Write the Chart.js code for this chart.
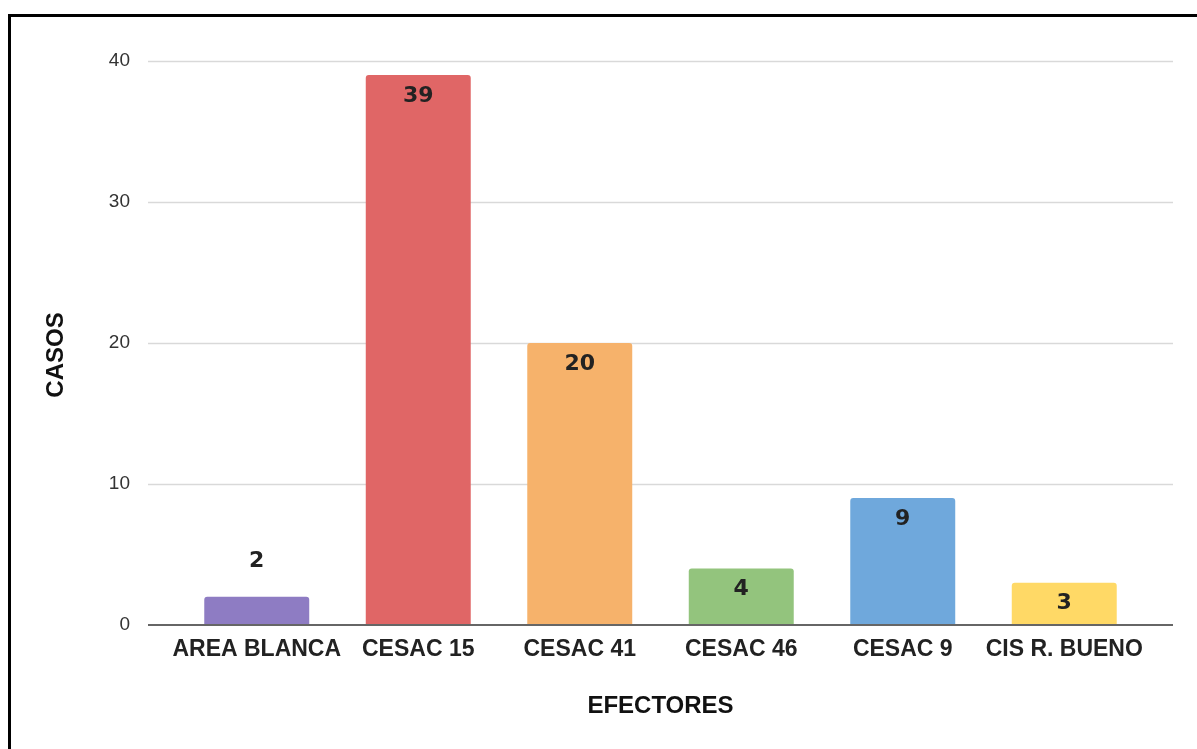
<!DOCTYPE html>
<html>
<head>
<meta charset="utf-8">
<script src="https://cdn.jsdelivr.net/npm/chart.js@4/dist/chart.umd.min.js"></script>
<style>
  html, body { margin: 0; padding: 0; background: #fff; overflow: hidden; }
  #wrap { position: relative; width: 1197px; height: 749px; }
  #frame { position: absolute; left: 8px; top: 14px; width: 1300px; height: 900px;
           border-left: 3px solid #000; border-top: 3px solid #000; pointer-events: none; }
  canvas { position: absolute; left: 0; top: 0; }
</style>
</head>
<body>
<div id="wrap">
  <canvas id="chart" width="1197" height="749"></canvas>
  <div id="frame"></div>
</div>
<script>
// Cases per health centre
const categories = ['AREA BLANCA', 'CESAC 15', 'CESAC 41', 'CESAC 46', 'CESAC 9', 'CIS R. BUENO'];
const casos = [2, 39, 20, 4, 9, 3];
const barColors = ['#8e7cc3', '#e06666', '#f6b26b', '#93c47d', '#6fa8dc', '#ffd966'];
const yTicks = [0, 10, 20, 30, 40];
const yTitle = 'CASOS';
const xTitle = 'EFECTORES';

const SANS = '"Liberation Sans", Arial, sans-serif';
const GRID_EXTEND = 28;

// Horizontal gridlines that run a little past the category bands on both sides
const gridPlugin = {
  id: 'wideGrid',
  beforeDatasetsDraw(chart) {
    const { ctx, chartArea, scales } = chart;
    ctx.save();
    ctx.strokeStyle = '#d9d9d9';
    ctx.lineWidth = 1.5;
    yTicks.forEach(v => {
      if (v === 0) return;
      const y = Math.round(scales.y.getPixelForValue(v)) + 0.5;
      ctx.beginPath();
      ctx.moveTo(chartArea.left - GRID_EXTEND, y);
      ctx.lineTo(chartArea.right + GRID_EXTEND, y);
      ctx.stroke();
    });
    ctx.restore();
  },
  afterDatasetsDraw(chart) {
    const { ctx, chartArea, scales } = chart;
    const y = scales.y.getPixelForValue(0);
    ctx.save();
    ctx.strokeStyle = '#666';
    ctx.lineWidth = 2;
    ctx.beginPath();
    ctx.moveTo(chartArea.left - GRID_EXTEND, y);
    ctx.lineTo(chartArea.right + GRID_EXTEND, y);
    ctx.stroke();
    ctx.restore();
  }
};

// Value labels: inside the top of tall bars, above short ones
const valueLabels = {
  id: 'valueLabels',
  afterDatasetsDraw(chart) {
    const { ctx } = chart;
    const meta = chart.getDatasetMeta(0);
    ctx.save();
    ctx.font = 'bold 22px "DejaVu Sans", Verdana, sans-serif';
    ctx.fillStyle = '#222';
    ctx.textAlign = 'center';
    ctx.textBaseline = 'middle';
    meta.data.forEach((bar, i) => {
      const h = bar.base - bar.y;
      const y = h > 34 ? bar.y + 21 : bar.y - 36;
      ctx.fillText(String(casos[i]), bar.x, y);
    });
    ctx.restore();
  }
};

// Vertical axis title, set a little below the middle of the plot
const yTitlePlugin = {
  id: 'yTitle',
  afterDraw(chart) {
    const { ctx, chartArea } = chart;
    ctx.save();
    ctx.font = 'bold 24px ' + SANS;
    ctx.fillStyle = '#111';
    ctx.textAlign = 'center';
    ctx.textBaseline = 'middle';
    ctx.translate(56, (chartArea.top + chartArea.bottom) / 2 + 12);
    ctx.rotate(-Math.PI / 2);
    ctx.fillText(yTitle, 0, 0);
    ctx.restore();
  }
};

new Chart(document.getElementById('chart'), {
  type: 'bar',
  data: {
    labels: categories,
    datasets: [{
      data: casos,
      backgroundColor: barColors,
      borderRadius: 3,
      borderSkipped: 'start',
      categoryPercentage: 1,
      barPercentage: 0.65
    }]
  },
  options: {
    responsive: false,
    animation: false,
    devicePixelRatio: 1,
    layout: { padding: { left: 0, right: 52, top: 61, bottom: 0 } },
    plugins: { legend: { display: false }, tooltip: { enabled: false } },
    scales: {
      x: {
        grid: { display: false },
        border: { display: false },
        ticks: {
          padding: 3,
          color: '#222',
          maxRotation: 0,
          autoSkip: false,
          font: { family: SANS, size: 23, weight: 'bold' }
        },
        title: {
          display: true,
          text: xTitle,
          color: '#111',
          font: { family: SANS, size: 24, weight: 'bold' },
          padding: { top: 0, bottom: 28 }
        },
        afterFit(scale) { scale.height = 124; }
      },
      y: {
        min: 0,
        max: 40,
        afterBuildTicks(scale) { scale.ticks = yTicks.map(v => ({ value: v })); },
        grid: { display: false },
        border: { display: false },
        ticks: {
          padding: 38,
          color: '#333',
          font: { family: SANS, size: 19 }
        },
        afterFit(scale) { scale.width = 176; }
      }
    }
  },
  plugins: [gridPlugin, valueLabels, yTitlePlugin]
});
</script>
</body>
</html>
